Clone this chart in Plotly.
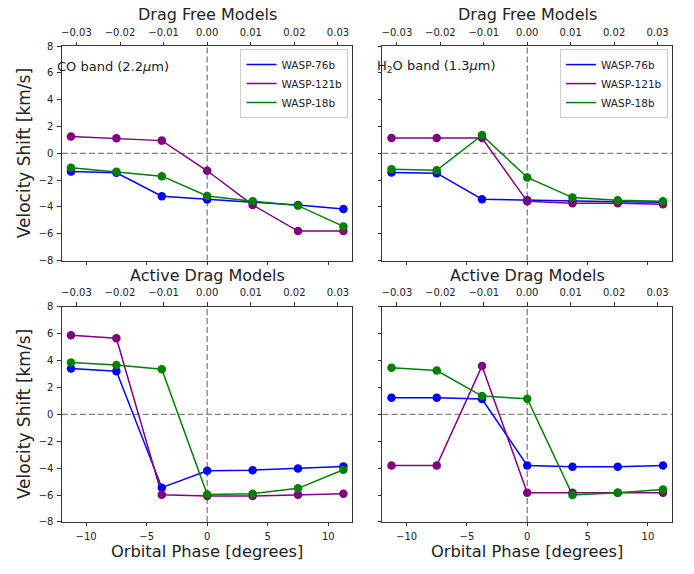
import plotly.graph_objects as go

# ---------------- data ----------------
phase_deg = [-11.25, -7.5, -3.75, 0.0, 3.75, 7.5, 11.25]
planets = ["WASP-76b", "WASP-121b", "WASP-18b"]
colors = ["blue", "purple", "green"]

co_free_w76 = [-1.35, -1.45, -3.2, -3.45, -3.65, -3.85, -4.15]
co_free_w121 = [1.25, 1.12, 0.95, -1.3, -3.85, -5.8, -5.8]
co_free_w18 = [-1.07, -1.38, -1.7, -3.18, -3.57, -3.9, -5.45]

h2o_free_w76 = [-1.42, -1.48, -3.42, -3.5, -3.58, -3.62, -3.65]
h2o_free_w121 = [1.14, 1.14, 1.14, -3.58, -3.72, -3.72, -3.8]
h2o_free_w18 = [-1.18, -1.26, 1.36, -1.8, -3.3, -3.5, -3.57]

co_active_w76 = [3.4, 3.2, -5.45, -4.2, -4.15, -4.02, -3.88]
co_active_w121 = [5.87, 5.65, -5.98, -6.07, -6.07, -5.98, -5.9]
co_active_w18 = [3.85, 3.66, 3.35, -5.96, -5.9, -5.5, -4.12]

h2o_active_w76 = [1.22, 1.22, 1.13, -3.8, -3.9, -3.9, -3.8]
h2o_active_w121 = [-3.8, -3.8, 3.58, -5.82, -5.82, -5.82, -5.82]
h2o_active_w18 = [3.45, 3.25, 1.35, 1.15, -6.0, -5.82, -5.58]

top_phase_ticks = [-0.03, -0.02, -0.01, 0.0, 0.01, 0.02, 0.03]
deg_ticks = [-10, -5, 0, 5, 10]
vel_ticks = [-8, -6, -4, -2, 0, 2, 4, 6, 8]
x_range = [-12, 12]
y_range = [-8, 8]

row_titles = ["Drag Free Models", "Active Drag Models"]
band_labels = ["CO band (2.2<i>μ</i>m)", "H<sub>2</sub>O band (1.3<i>μ</i>m)"]

panels = [
    dict(series=[co_free_w76, co_free_w121, co_free_w18], row=0, col=0),
    dict(series=[h2o_free_w76, h2o_free_w121, h2o_free_w18], row=0, col=1),
    dict(series=[co_active_w76, co_active_w121, co_active_w18], row=1, col=0),
    dict(series=[h2o_active_w76, h2o_active_w121, h2o_active_w18], row=1, col=1),
]

# orbital phase (fraction of orbit) for the top axis
phase_frac = [d / 360 for d in phase_deg]

# ---------------- layout geometry ----------------
W, H = 694, 574
col_px = [(61, 352), (382, 672)]
row_px = [(41, 260), (307, 527)]
FONT = "DejaVu Sans"
TXT = "#222222"
SPINE = "#333333"


def ax(n):
    return "" if n == 1 else str(n)


fig = go.Figure()
layout = dict(
    width=W, height=H,
    margin=dict(l=0, r=0, t=0, b=0),
    paper_bgcolor="white", plot_bgcolor="white",
    font=dict(family=FONT, size=10, color=TXT),
    showlegend=True,
)
shapes = []
annotations = []

for i, p in enumerate(panels, start=1):
    r, c = p["row"], p["col"]
    xd = [col_px[c][0] / W, col_px[c][1] / W]
    yd = [1 - row_px[r][1] / H, 1 - row_px[r][0] / H]
    xa, ya, xt = "x" + ax(i), "y" + ax(i), "x" + ax(i + 4)

    for k, (name, col, ys) in enumerate(zip(planets, colors, p["series"])):
        legend_name = "legend" if c == 0 else "legend2"
        fig.add_trace(go.Scatter(
            x=phase_deg, y=ys, mode="lines", name=name,
            line=dict(color=col, width=1.5),
            xaxis=xa, yaxis=ya, legend=legend_name,
            showlegend=(r == 0), hoverinfo="skip"))
        # same points, plotted against orbital phase on the top axis
        fig.add_trace(go.Scatter(
            x=phase_frac, y=ys, mode="markers", name=name,
            marker=dict(color=col, size=8.5, line=dict(width=0)),
            xaxis=xt, yaxis=ya, showlegend=False))

    common_tick = dict(ticks="outside", ticklen=3.5, tickwidth=0.8,
                       tickcolor=SPINE, showgrid=False, zeroline=False,
                       showline=True, linecolor=SPINE, linewidth=1,
                       ticklabelstandoff=2,
                       tickfont=dict(family=FONT, size=10, color=TXT))

    layout["xaxis" + ax(i)] = dict(
        domain=xd, anchor=ya, range=x_range, tickmode="array",
        tickvals=deg_ticks, showticklabels=(r == 1), side="bottom",
        **common_tick)
    layout["yaxis" + ax(i)] = dict(
        domain=yd, anchor=xa, range=y_range, tickmode="array",
        tickvals=vel_ticks, showticklabels=(c == 0), mirror=True,
        **common_tick)
    layout["xaxis" + ax(i + 4)] = dict(
        overlaying=xa, anchor=ya, side="top",
        range=[x_range[0] / 360, x_range[1] / 360], tickmode="array",
        tickvals=top_phase_ticks, tickformat=".2f", **common_tick)

    dash = dict(color="#808080", dash="6px,3px", width=1.3)
    shapes.append(dict(type="line", xref=xa + " domain", x0=0, x1=1,
                       yref=ya, y0=0, y1=0, line=dash, layer="below"))
    shapes.append(dict(type="line", xref=xa, x0=0, x1=0,
                       yref=ya + " domain", y0=0, y1=1, line=dash,
                       layer="below"))

    xc = (col_px[c][0] + col_px[c][1]) / 2 / W
    # panel title
    annotations.append(dict(text=row_titles[r], xref="paper", yref="paper",
                            x=xc, y=1 - (row_px[r][0] - 32) / H,
                            xanchor="center", yanchor="middle",
                            showarrow=False,
                            font=dict(family=FONT, size=16, color=TXT)))
    # y label
    if c == 0:
        annotations.append(dict(text="Velocity Shift [km/s]", xref="paper",
                                yref="paper", x=23 / W,
                                y=1 - (row_px[r][0] + row_px[r][1]) / 2 / H,
                                xanchor="center", yanchor="middle",
                                textangle=-90, showarrow=False,
                                font=dict(family=FONT, size=17, color=TXT)))
    # x label
    if r == 1:
        annotations.append(dict(text="Orbital Phase [degrees]", xref="paper",
                                yref="paper", x=xc, y=1 - 557 / H,
                                xanchor="center", yanchor="middle",
                                showarrow=False,
                                font=dict(family=FONT, size=16.3, color=TXT)))
    # band label
    if r == 0:
        annotations.append(dict(text=band_labels[c], xref="paper",
                                yref="paper", x=(col_px[c][0] - 7) / W,
                                y=1 - 62 / H, xanchor="left",
                                yanchor="middle", showarrow=False,
                                font=dict(family=FONT, size=13, color=TXT)))

leg_common = dict(bgcolor="white", bordercolor="#cccccc", borderwidth=1,
                  font=dict(family=FONT, size=10.5, color=TXT),
                  xanchor="right", yanchor="top", tracegroupgap=0)
layout["legend"] = dict(x=348 / W, y=1 - 44 / H, **leg_common)
layout["legend2"] = dict(x=668 / W, y=1 - 44 / H, **leg_common)
layout["shapes"] = shapes
layout["annotations"] = annotations

fig.update_layout(**layout)
fig.write_html("out.html")
